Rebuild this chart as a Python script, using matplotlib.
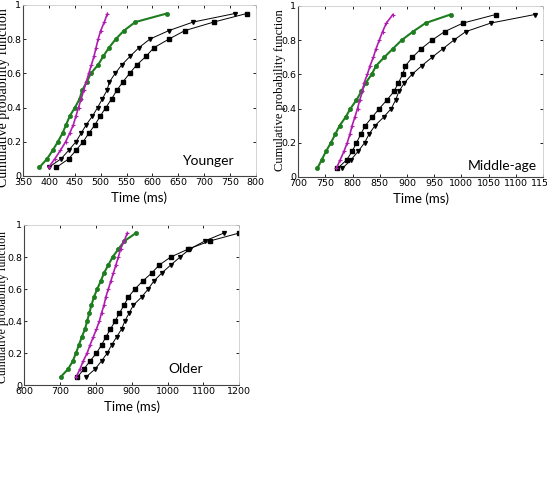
import numpy as np
import matplotlib
matplotlib.use("Agg")
import matplotlib.pyplot as plt

# quantile levels (common to every curve)
probs = [0.05, 0.10, 0.15, 0.20, 0.25, 0.30, 0.35, 0.40, 0.45, 0.50,
         0.55, 0.60, 0.65, 0.70, 0.75, 0.80, 0.85, 0.90, 0.95]

# Younger
young_green = [381, 396, 407, 417, 426, 433, 440, 450, 459, 464,
               473, 481, 495, 505, 516, 529, 545, 567, 628]
young_magenta = [399, 411, 422, 432, 440, 447, 452, 457, 462, 467,
                 472, 477, 482, 487, 491, 495, 500, 507, 513]
young_tri = [399, 423, 438, 452, 462, 472, 484, 494, 503, 512,
             517, 528, 541, 557, 574, 595, 632, 679, 760]
young_sq = [414, 438, 452, 466, 477, 489, 499, 510, 521, 531,
            543, 556, 570, 588, 603, 632, 663, 719, 783]

# Middle-age
mid_green = [735, 743, 751, 760, 768, 776, 787, 796, 807, 816,
             824, 835, 843, 858, 874, 890, 911, 934, 980]
mid_magenta = [770, 777, 784, 790, 795, 799, 804, 809, 813, 818,
               821, 827, 832, 838, 843, 849, 855, 862, 874]
mid_tri = [781, 797, 810, 822, 830, 841, 857, 871, 879, 885,
           895, 909, 927, 946, 966, 986, 1008, 1054, 1135]
mid_sq = [772, 789, 799, 807, 815, 823, 836, 849, 863, 876,
          884, 892, 897, 910, 926, 946, 969, 1003, 1063]

# Older
old_green = [702, 723, 736, 745, 753, 761, 770, 776, 782, 788,
             795, 804, 814, 823, 835, 847, 863, 880, 912]
old_magenta = [745, 756, 765, 776, 784, 793, 802, 810, 816, 823,
               828, 835, 842, 849, 856, 863, 869, 879, 888]
old_tri = [773, 798, 816, 832, 844, 858, 872, 881, 893, 905,
           928, 946, 962, 984, 1009, 1035, 1062, 1104, 1157]
old_sq = [749, 767, 784, 802, 816, 828, 841, 854, 866, 879,
          891, 909, 931, 956, 977, 1009, 1058, 1118, 1200]

GREEN = "#1e7d1e"
MAGENTA = "#b01cb0"
TICK_FONT = ["Liberation Sans Narrow", "DejaVu Sans"]


def draw_panel(ax, green, magenta, tri, sq, xlim, xticks, name, name_xy,
               ylab_pos, ylab_size):
    ax.plot(tri, probs, color="black", lw=0.7, marker="v", ms=2.8)
    ax.plot(sq, probs, color="black", lw=0.7, marker="s", ms=2.2)
    ax.plot(green, probs, color=GREEN, lw=1.5, marker="o", ms=3, mew=0.5)
    ax.plot(magenta, probs, color=MAGENTA, lw=1.2, marker="+", ms=3, mew=0.8)

    ax.set_xlim(xlim)
    ax.set_ylim(0, 1)
    ax.set_xticks(xticks)
    ax.set_xticklabels([str(t) for t in xticks], family=TICK_FONT, fontsize=6.8)
    ax.set_yticks([0, 0.2, 0.4, 0.6, 0.8, 1])
    ax.set_yticklabels(["0", "0.2", "0.4", "0.6", "0.8", "1"],
                       family=TICK_FONT, fontsize=6.8)
    ax.tick_params(direction="in", length=2.5, width=0.6, pad=1.5,
                   top=True, right=True)
    for s in ["left", "bottom"]:
        ax.spines[s].set_color("#444444")
        ax.spines[s].set_linewidth(0.8)
    for s in ["top", "right"]:
        ax.spines[s].set_color("#cccccc")
        ax.spines[s].set_linewidth(0.6)

    ax.set_ylabel("Cumulative probability function", family="Liberation Serif",
                  fontsize=ylab_size)
    ax.yaxis.set_label_coords(*ylab_pos)
    ax.set_xlabel("Time (ms)", family="Lato", fontsize=9.5, labelpad=3)
    ax.text(name_xy[0], name_xy[1], name, transform=ax.transAxes,
            family="Lato", fontsize=10, ha="left", va="center")


fig = plt.figure(figsize=(5.47, 4.82), dpi=100)

ax1 = fig.add_axes([0.0426, 0.6349, 0.4245, 0.3548])
draw_panel(ax1, young_green, young_magenta, young_tri, young_sq,
           (350, 800), list(range(350, 801, 50)), "Younger",
           (0.685, 0.09), (-0.058, 0.46), 10)

ax2 = fig.add_axes([0.5453, 0.6328, 0.4473, 0.3548])
draw_panel(ax2, mid_green, mid_magenta, mid_tri, mid_sq,
           (700, 1150), list(range(700, 1151, 50)), "Middle-age",
           (0.693, 0.065), (-0.052, 0.51), 9)

ax3 = fig.add_axes([0.0439, 0.2012, 0.3936, 0.3320])
draw_panel(ax3, old_green, old_magenta, old_tri, old_sq,
           (600, 1200), list(range(600, 1201, 100)), "Older",
           (0.672, 0.10), (-0.072, 0.49), 8.5)

fig.savefig("out.png", dpi=100)
